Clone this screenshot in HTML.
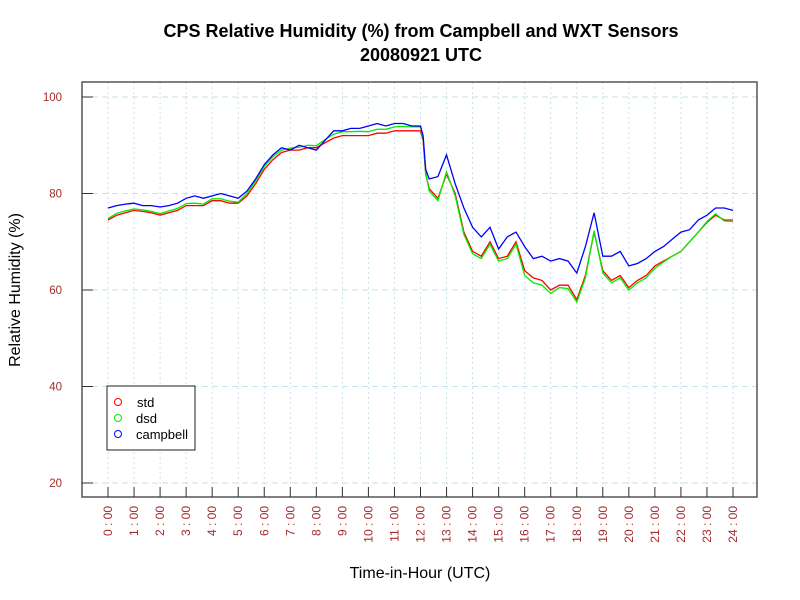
<!DOCTYPE html>
<html><head><meta charset="utf-8"><style>
body{margin:0;background:#fff;}
svg{display:block;font-family:"Liberation Sans",sans-serif;}
</style></head><body>
<svg id="chart" width="800" height="600" viewBox="0 0 800 600">
<rect x="0" y="0" width="800" height="600" fill="#fff"/>
<text x="421" y="37" text-anchor="middle" font-size="18" font-weight="bold">CPS Relative Humidity (%) from Campbell and WXT Sensors</text>
<text x="421" y="61" text-anchor="middle" font-size="18" font-weight="bold">20080921  UTC</text>
<g id="grid"></g>
<g id="series"></g>
<rect x="82" y="82" width="675" height="415" fill="none" stroke="#555" stroke-width="1.5"/>
<g id="axes"></g>
<text transform="translate(20,290) rotate(-90)" text-anchor="middle" font-size="16">Relative Humidity (%)</text>
<text x="420" y="578" text-anchor="middle" font-size="16">Time-in-Hour (UTC)</text>
<g>
<rect x="107" y="386" width="88" height="64" fill="#fff" stroke="#222" stroke-width="1"/>
<circle cx="118" cy="402" r="3.5" fill="none" stroke="#f00"/>
<text x="137" y="407" font-size="13">std</text>
<circle cx="118" cy="418" r="3.5" fill="none" stroke="#0e0"/>
<text x="136" y="423" font-size="13">dsd</text>
<circle cx="118" cy="434" r="3.5" fill="none" stroke="#00f"/>
<text x="136" y="439" font-size="13">campbell</text>
</g>
</svg>
<script>
const yTicks=[20,40,60,80,100];
const hours=[0,1,2,3,4,5,6,7,8,9,10,11,12,13,14,15,16,17,18,19,20,21,22,23,24];
const hourLabels=hours.map(h=>h+' : 00');
const stdTimes=[0,0.333,0.667,1,1.333,1.667,2,2.333,2.667,3,3.333,3.667,4,4.333,4.667,5,5.333,5.667,6,6.333,6.667,7,7.333,7.667,8,8.333,8.667,9,9.333,9.667,10,10.333,10.667,11,11.333,11.667,12,12.1,12.2,12.333,12.667,13,13.333,13.667,14,14.333,14.667,15,15.333,15.667,16,16.333,16.667,17,17.333,17.667,18,18.333,18.667,19,19.333,19.667,20,20.333,20.667,21,21.333,21.667,22,22.333,22.667,23,23.333,23.667,24];
const campbell=[77,77.5,77.8,78,77.5,77.5,77.2,77.5,78,79,79.5,79,79.5,80,79.5,79,80.5,83,86,88,89.5,89,90,89.5,89,91,93,93,93.5,93.5,94,94.5,94,94.5,94.5,94,94,92,85,83,83.5,88,82,77,73,71,73,68.5,71,72,69,66.5,67,66,66.5,66,63.5,69,76,67,67,68,65,65.5,66.5,68,69,70.5,72,72.5,74.5,75.5,77,77,76.5];
const std=[74.5,75.5,76,76.5,76.3,76,75.5,76,76.5,77.5,77.5,77.5,78.5,78.5,78,78,79.5,82,85,87,88.5,89,89,89.5,89.5,90.5,91.5,92,92,92,92,92.5,92.5,93,93,93,93,91,84,81,79,84,80,72,68,67,70,66.5,67,70,64,62.5,62,60,61,61,58,63,72,64,62,63,60.5,62,63,65,66,67,68,70,72,74,75.5,74.5,74.5];
const dsd=[74.8,75.9,76.4,76.8,76.6,76.3,75.8,76.4,76.9,77.9,78,77.8,78.9,78.9,78.4,78.2,80,82.6,85.6,87.6,89,89.4,89.6,90,89.9,91.2,92.3,92.8,92.8,92.9,92.8,93.3,93.3,93.8,93.9,93.8,93.8,91.5,84.5,80.5,78.5,84.5,79.5,71.5,67.5,66.5,69.5,66,66.5,69.5,63,61.5,61,59.3,60.5,60.3,57.5,62.5,72.3,63.5,61.5,62.5,60,61.5,62.5,64.5,65.8,67,68,70,72,74.2,75.8,74.3,74.2];
const X=h=>108+h*(733-108)/24;
const Y=v=>97+(100-v)*(483-97)/80;
const NS='http://www.w3.org/2000/svg';
function mk(tag,attrs,parent,txt){const e=document.createElementNS(NS,tag);for(const k in attrs)e.setAttribute(k,attrs[k]);if(txt!==undefined)e.textContent=txt;parent.appendChild(e);return e;}
const grid=document.getElementById('grid'),axes=document.getElementById('axes'),ser=document.getElementById('series');
yTicks.forEach(v=>{
 const g=mk('line',{x1:82,x2:757,y1:Y(v),y2:Y(v),stroke:'#c6e2ea','stroke-dasharray':'6,4'},grid);
 
 
 const t=mk('line',{x1:82,x2:93,y1:Y(v),y2:Y(v),stroke:'#333'},axes);
 
 
 const l=mk('text',{x:62,y:Y(v)+4,'text-anchor':'end','font-size':11.5,fill:'#a52a2a'},axes,String(v));
 
 
});
hours.forEach((h,i)=>{
 const g=mk('line',{x1:X(h),x2:X(h),y1:82,y2:497,stroke:'#c6e2ea','stroke-dasharray':'2,3'},grid);
 
 
 const t=mk('line',{x1:X(h),x2:X(h),y1:487,y2:497,stroke:'#333'},axes);
 
 
 const l=mk('text',{transform:`translate(${X(h)+4},506) rotate(-90)`,'text-anchor':'end','font-size':12,fill:'#a52a2a'},axes,hourLabels[i]);
 
 
});
function line(vals,color,name){
 const d=vals.map((v,i)=>(i?'L':'M')+X(stdTimes[i]).toFixed(1)+','+Y(v).toFixed(1)).join(' ');
 const p=mk('path',{d:d,fill:'none',stroke:color,'stroke-width':1.3},ser);
 
 
}
line(std,'#f00','std-line');
line(dsd,'#0e0','dsd-line');
line(campbell,'#00f','campbell-line');
</script>
</body></html>
